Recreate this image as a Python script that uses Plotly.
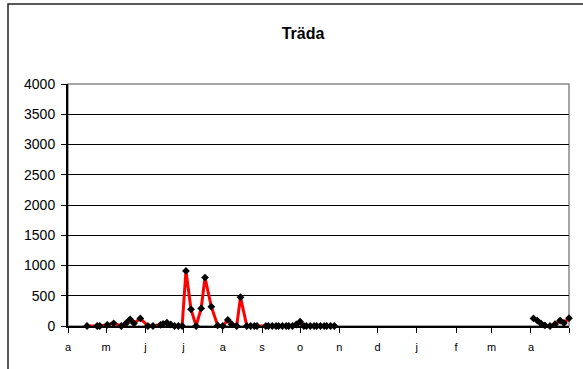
import plotly.graph_objects as go

# Sampling dates and measured values (one season, gap over winter)
dates = [
    "2005-04-16", "2005-04-24", "2005-04-26", "2005-05-02", "2005-05-07",
    "2005-05-13", "2005-05-17", "2005-05-20", "2005-05-23", "2005-05-28",
    "2005-06-03", "2005-06-07", "2005-06-13", "2005-06-15", "2005-06-18",
    "2005-06-21", "2005-06-24", "2005-06-27", "2005-06-30", "2005-07-03",
    "2005-07-07", "2005-07-11", "2005-07-15", "2005-07-18", "2005-07-23",
    "2005-07-28", "2005-08-01", "2005-08-05", "2005-08-08", "2005-08-12",
    "2005-08-15", "2005-08-20", "2005-08-23", "2005-08-26", "2005-08-28",
    "2005-09-04", "2005-09-06", "2005-09-09", "2005-09-12", "2005-09-14",
    "2005-09-17", "2005-09-20", "2005-09-22", "2005-09-25", "2005-09-28",
    "2005-10-01", "2005-10-04", "2005-10-06", "2005-10-09", "2005-10-12",
    "2005-10-14", "2005-10-17", "2005-10-20", "2005-10-22", "2005-10-25",
    "2005-10-28",
    "2006-01-15",
    "2006-04-03", "2006-04-06", "2006-04-09", "2006-04-12", "2006-04-16",
    "2006-04-20", "2006-04-24", "2006-04-27", "2006-05-01",
]
values = [
    0, 0, 0, 20, 45,
    0, 50, 110, 45, 125,
    0, 0, 20, 35, 55,
    25, 0, 0, 0, 910,
    275, 0, 290, 800, 320,
    10, 0, 100, 30, 0,
    475, 0, 0, 0, 0,
    0, 0, 0, 0, 0,
    0, 0, 0, 0, 25,
    70, 0, 0, 0, 0,
    0, 0, 0, 0, 0,
    0,
    None,
    125, 90, 40, 10, 0,
    30, 90, 50, 130,
]

month_ticks = [
    "2005-04-01", "2005-05-01", "2005-06-01", "2005-07-01", "2005-08-01",
    "2005-09-01", "2005-10-01", "2005-11-01", "2005-12-01", "2006-01-01",
    "2006-02-01", "2006-03-01", "2006-04-01", "2006-05-01",
]
month_labels = ["a", "m", "j", "j", "a", "s", "o", "n", "d", "j", "f", "m", "a", ""]
y_ticks = [0, 500, 1000, 1500, 2000, 2500, 3000, 3500, 4000]

fig = go.Figure()
fig.add_trace(go.Scatter(
    x=dates, y=values,
    mode="lines+markers",
    connectgaps=False,
    line=dict(color="#ff0000", width=3),
    marker=dict(symbol="diamond", size=6, color="black"),
    cliponaxis=False,
    showlegend=False,
))

font = "Liberation Sans, Arial, sans-serif"
L, R, T, B = 68, 14, 84, 43
W, H = 583, 369
pw, ph = W - L - R, H - T - B

fig.update_layout(
    width=W, height=H,
    margin=dict(l=L, r=R, t=T, b=B),
    paper_bgcolor="white", plot_bgcolor="white",
    font=dict(family=font, color="black"),
    title=dict(
        text="<b>Träda</b>", font=dict(size=16, family=font, color="black"),
        x=(303 - L) / pw, xref="paper", xanchor="center",
        y=1 - 33 / H, yanchor="middle",
    ),
    xaxis=dict(
        type="date",
        range=["2005-04-01", "2006-05-01"],
        tickvals=month_ticks, ticktext=month_labels,
        ticks="outside", ticklen=5, tickwidth=1, tickcolor="black",
        showline=True, linecolor="black", linewidth=2,
        showgrid=False, zeroline=False,
        tickfont=dict(size=11, family=font, color="black"),
        ticklabelstandoff=5,
        layer="below traces",
    ),
    yaxis=dict(
        range=[0, 4000],
        tickvals=y_ticks,
        ticks="outside", ticklen=5, tickwidth=1, tickcolor="black",
        showline=True, linecolor="black", linewidth=2,
        showgrid=True, gridcolor="black", gridwidth=1,
        zeroline=False,
        tickfont=dict(size=14, family=font, color="black"),
        ticklabelstandoff=3,
        layer="below traces",
    ),
    shapes=[
        # plot area border
        dict(type="rect", xref="paper", yref="paper", x0=0, x1=1, y0=0, y1=1,
             line=dict(color="#888888", width=1.5), layer="below"),
        # outer chart frame
        dict(type="rect", xref="paper", yref="paper",
             x0=(8 - L) / pw, x1=(600 - L) / pw,
             y0=-(380 - (H - B)) / ph, y1=1 + (T - 4) / ph,
             line=dict(color="#222222", width=1.5), layer="below"),
    ],
)

fig.write_html("out.html")
